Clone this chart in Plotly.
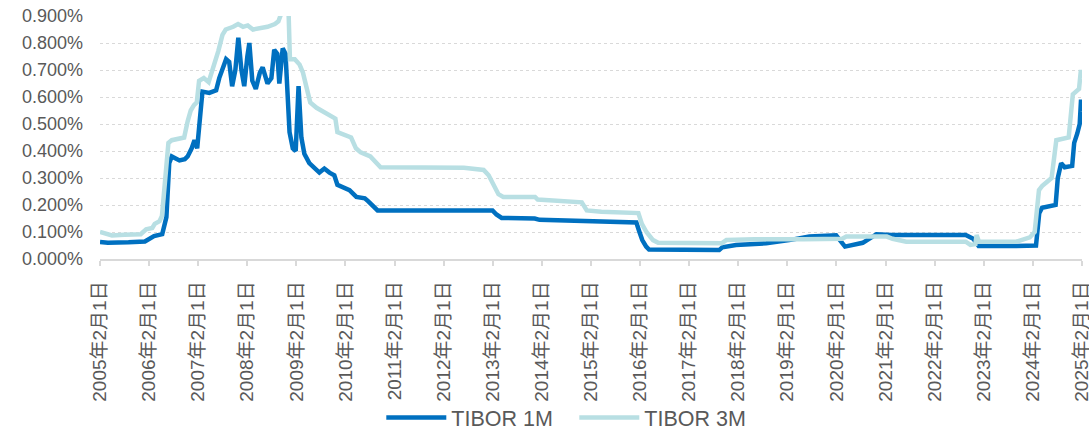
import plotly.graph_objects as go

# TIBOR 1M (dark blue) - dates and values (%)
dates_1m = [
    "2005-02-01", "2005-04-01", "2005-09-01", "2006-01-01", "2006-03-10", "2006-04-20",
    "2006-05-10", "2006-06-10", "2006-07-01", "2006-07-20", "2006-09-15", "2006-10-25",
    "2006-11-15", "2006-12-15", "2007-01-05", "2007-01-25", "2007-02-20", "2007-03-05",
    "2007-04-25", "2007-06-15", "2007-07-08", "2007-08-28", "2007-09-20", "2007-10-12",
    "2007-11-05", "2007-11-27", "2007-12-20", "2008-01-10", "2008-02-02", "2008-02-17",
    "2008-03-10", "2008-04-05", "2008-05-05", "2008-05-26", "2008-07-01", "2008-07-30",
    "2008-08-20", "2008-09-12", "2008-09-27", "2008-10-22", "2008-11-12", "2008-11-27",
    "2008-12-12", "2009-01-05", "2009-01-27", "2009-02-17", "2009-03-10", "2009-04-01",
    "2009-05-08", "2009-07-22", "2009-08-28", "2009-10-05", "2009-11-10", "2009-12-03",
    "2010-01-25", "2010-03-03", "2010-04-23", "2010-06-25", "2010-07-17", "2010-08-22",
    "2010-09-28", "2013-01-30", "2013-02-28", "2013-04-08", "2013-12-10", "2014-01-15",
    "2015-01-22", "2015-04-05", "2016-01-05", "2016-01-28", "2016-02-18", "2016-03-18",
    "2016-04-08", "2017-09-12", "2017-10-05", "2018-01-15", "2018-08-28", "2019-02-15",
    "2019-07-15", "2020-01-30", "2020-04-05", "2020-08-15", "2020-11-25", "2021-03-20",
    "2022-09-20", "2022-11-15", "2022-12-25", "2023-10-01", "2024-01-30", "2024-02-25",
    "2024-03-20", "2024-04-10", "2024-07-20", "2024-08-05", "2024-08-30", "2024-09-25",
    "2024-11-20", "2024-12-05", "2024-12-28", "2025-01-15", "2025-01-25", "2025-02-01",
]
tibor_1m = [
    0.063, 0.060, 0.062, 0.065, 0.085, 0.090,
    0.092, 0.155, 0.355, 0.380, 0.365, 0.370,
    0.380, 0.410, 0.440, 0.410, 0.540, 0.620,
    0.615, 0.625, 0.670, 0.740, 0.730, 0.640,
    0.700, 0.820, 0.700, 0.640, 0.750, 0.800,
    0.660, 0.630, 0.690, 0.710, 0.650, 0.670,
    0.775, 0.760, 0.650, 0.780, 0.760, 0.600,
    0.470, 0.410, 0.400, 0.640, 0.450, 0.390,
    0.355, 0.320, 0.335, 0.320, 0.310, 0.275,
    0.265, 0.255, 0.230, 0.225, 0.215, 0.200,
    0.180, 0.180, 0.165, 0.152, 0.150, 0.145,
    0.140, 0.135, 0.135, 0.100, 0.070, 0.046,
    0.035, 0.033, 0.043, 0.052, 0.058, 0.070,
    0.083, 0.088, 0.046, 0.060, 0.092, 0.089,
    0.089, 0.075, 0.048, 0.048, 0.048, 0.050,
    0.170, 0.190, 0.200, 0.300, 0.355, 0.340,
    0.345, 0.430, 0.465, 0.500, 0.590, 0.545,
]

# TIBOR 3M (light teal) - dates and values (%)
dates_3m = [
    "2005-02-01", "2005-03-15", "2005-05-01", "2005-08-01", "2005-12-01", "2006-01-10",
    "2006-02-25", "2006-03-15", "2006-04-20", "2006-05-08", "2006-06-02", "2006-06-25",
    "2006-07-20", "2006-10-20", "2006-11-15", "2006-12-08", "2007-01-01", "2007-01-22",
    "2007-02-08", "2007-03-15", "2007-04-20", "2007-05-28", "2007-07-01", "2007-08-01",
    "2007-08-25", "2007-10-20", "2007-11-25", "2008-01-01", "2008-02-05", "2008-03-15",
    "2008-05-08", "2008-07-01", "2008-08-25", "2008-09-20", "2008-10-12", "2008-12-05",
    "2008-12-15", "2009-01-20", "2009-02-25", "2009-03-22", "2009-04-20", "2009-05-15",
    "2009-07-01", "2009-09-12", "2009-10-20", "2009-11-18", "2009-12-03", "2010-01-20",
    "2010-03-15", "2010-04-20", "2010-05-25", "2010-08-05", "2010-09-12", "2010-10-20",
    "2012-07-01", "2012-08-08", "2012-11-25", "2013-01-01", "2013-02-05", "2013-03-15",
    "2013-04-20", "2013-12-12", "2014-01-01", "2014-07-01", "2014-11-25", "2015-01-01",
    "2015-04-20", "2016-01-20", "2016-02-15", "2016-03-20", "2016-05-08", "2016-06-15",
    "2017-09-30", "2017-11-05", "2018-06-01", "2019-06-01", "2020-03-15", "2020-04-15",
    "2021-02-10", "2021-03-25", "2021-07-05", "2022-09-20", "2022-10-25", "2022-12-01",
    "2022-12-10", "2022-12-28", "2023-10-01", "2024-01-10", "2024-02-15", "2024-03-18",
    "2024-04-10", "2024-06-20", "2024-07-25", "2024-10-25", "2024-11-25", "2025-01-10",
    "2025-01-24", "2025-02-01",
]
tibor_3m = [
    0.100, 0.095, 0.087, 0.090, 0.092, 0.110,
    0.115, 0.130, 0.140, 0.160, 0.300, 0.430,
    0.440, 0.450, 0.510, 0.550, 0.570, 0.580,
    0.660, 0.670, 0.655, 0.710, 0.770, 0.830,
    0.850, 0.860, 0.870, 0.860, 0.865, 0.850,
    0.855, 0.860, 0.870, 0.880, 0.910, 0.910,
    0.740, 0.740, 0.720, 0.690, 0.630, 0.580,
    0.560, 0.540, 0.530, 0.520, 0.470, 0.460,
    0.450, 0.410, 0.395, 0.380, 0.360, 0.340,
    0.338, 0.335, 0.330, 0.310, 0.280, 0.240,
    0.230, 0.230, 0.220, 0.215, 0.210, 0.180,
    0.175, 0.170, 0.130, 0.100, 0.070, 0.060,
    0.058, 0.070, 0.073, 0.073, 0.075, 0.083,
    0.083, 0.075, 0.064, 0.064, 0.052, 0.055,
    0.089, 0.064, 0.064, 0.080, 0.100, 0.255,
    0.270, 0.300, 0.440, 0.450, 0.610, 0.630,
    0.700, 0.670,
]

# X-axis tick labels (yearly, Feb 1)
tick_years = list(range(2005, 2026))
tick_vals = [f"{y}-02-01" for y in tick_years]
tick_text = [f"{y}年2月1日" for y in tick_years]

FONT = "Arial, 'Liberation Sans', 'Noto Sans CJK JP', sans-serif"
GREY = "#595959"

fig = go.Figure()
fig.add_trace(go.Scatter(
    x=dates_1m, y=tibor_1m, mode="lines", name="TIBOR 1M",
    line=dict(color="#0070C0", width=4.5), hoverinfo="skip",
))
fig.add_trace(go.Scatter(
    x=dates_3m, y=tibor_3m, mode="lines", name="TIBOR 3M",
    line=dict(color="#B8DFE3", width=4.5), hoverinfo="skip",
))

fig.update_layout(
    width=1089, height=431,
    margin=dict(l=100, r=7, t=16, b=172, autoexpand=False),
    paper_bgcolor="white", plot_bgcolor="white",
    font=dict(family=FONT, color=GREY, size=18),
    showlegend=True,
    legend=dict(
        orientation="h", x=0.483, xanchor="center", y=-0.652, yanchor="middle",
        font=dict(size=21.5, color=GREY), itemwidth=60, entrywidth=118,
        traceorder="normal", bgcolor="rgba(0,0,0,0)",
    ),
    xaxis=dict(
        type="date", range=["2005-02-01", "2025-02-01 03:00"], automargin=False,
        tickmode="array", tickvals=tick_vals, ticktext=tick_text,
        tickangle=-90, tickfont=dict(size=19, color=GREY), ticklabelstandoff=8,
        ticklabeloverflow="allow",
        showgrid=False, showline=True, linecolor="#D9D9D9", linewidth=1.5,
        ticks="outside", ticklen=5, tickcolor="#D9D9D9", tickwidth=1.5,
        zeroline=False,
    ),
    yaxis=dict(
        range=[0, 0.9], dtick=0.1, tick0=0, tickformat=".3f", ticksuffix="%",
        tickfont=dict(size=18, color=GREY), automargin=False,
        ticklabelstandoff=16,
        showgrid=True, gridcolor="#D9D9D9", gridwidth=1, griddash="dot",
        zeroline=False, showline=False, ticks="",
    ),
)

fig.write_html(
    "out.html",
    config={"displayModeBar": False},
    post_script="document.body.style.margin='0px';",
)
